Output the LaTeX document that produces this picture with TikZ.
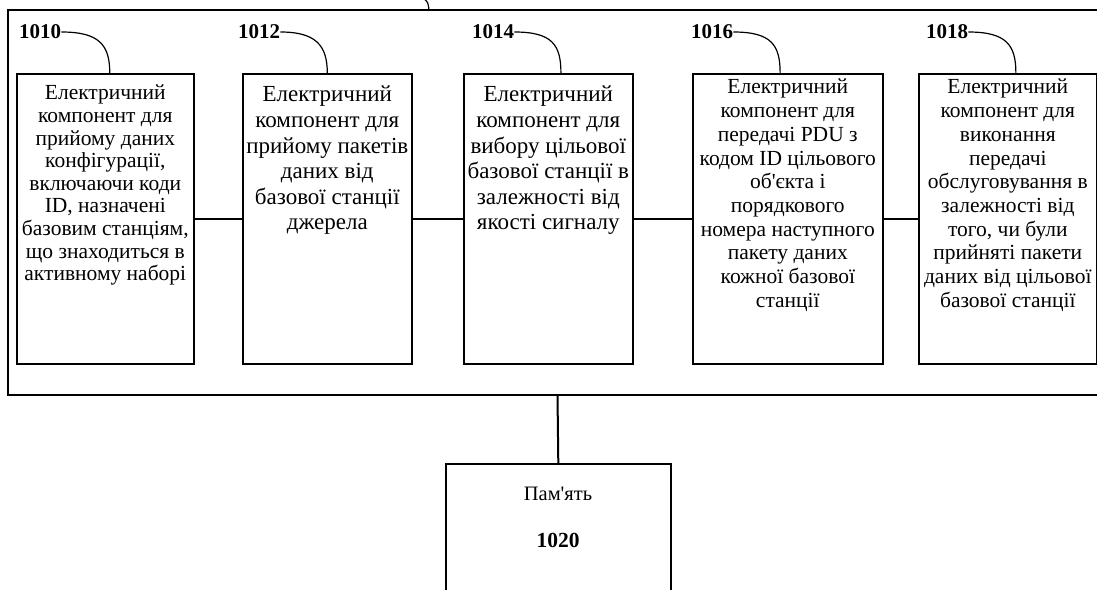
\documentclass[tikz,border=0pt]{standalone}
\usepackage{fontspec}
\setmainfont{Liberation Serif}[Ligatures=TeXOff]
\usetikzlibrary{calc}
\begin{document}
\begin{tikzpicture}[x=1pt,y=-1pt,
  unitbox/.style={draw, line width=1.6pt, rectangle, inner sep=0pt, anchor=north west},
  smalltxt/.style={anchor=north, align=center, inner sep=0pt, font=\fontsize{21.5}{22.6}\selectfont},
  widetxt/.style={anchor=north, align=center, inner sep=0pt, font=\fontsize{21.5}{23.7}\selectfont},
  bigtxt/.style={anchor=north, align=center, inner sep=0pt, font=\fontsize{23}{25.6}\selectfont},
  tag/.style={anchor=west, inner sep=0pt, font=\fontsize{21}{22}\selectfont\bfseries},
  tagline/.style={line width=1.2pt},
  link/.style={line width=1.5pt}]
\useasboundingbox (0,0) rectangle (1097,589);
\fill[white] (0,0) rectangle (1097,589);
\clip (0,0) rectangle (1097,589);

% enclosing unit, open to the right
\draw[line width=2pt] (1110,10) -- (8,10) -- (8,395) -- (1110,395);
\coordinate (unittop) at (429,10);
\coordinate (unitlead) at (423,-2);
\draw[tagline] (unitlead) .. controls (428,2) .. (unittop);
\coordinate (unitbottom) at (557.5,395);

% component boxes
\node[unitbox, minimum width=177pt, minimum height=290pt] (b1) at (16,73) {};
\node[unitbox, minimum width=169pt, minimum height=290pt] (b2) at (242,73) {};
\node[unitbox, minimum width=169pt, minimum height=290pt] (b3) at (463,73) {};
\node[unitbox, minimum width=190pt, minimum height=290pt] (b4) at (692,73) {};
\node[unitbox, minimum width=178pt, minimum height=290pt] (b5) at (918,73) {};

\node[smalltxt] (t1) at ($(b1.north)+(0,12)$) {Електричний\\компонент для\\прийому даних\\конфігурації,\\включаючи коди\\ID, назначені\\базовим станціям,\\що знаходиться в\\активному наборі};
\node[bigtxt] (t2) at ($(b2.north)+(0,13)$) {Електричний\\компонент для\\прийому пакетів\\даних від\\базової станції\\джерела};
\node[bigtxt] (t3) at ($(b3.north)+(0,13)$) {Електричний\\компонент для\\вибору цільової\\базової станції в\\залежності від\\якості сигналу};
\node[widetxt] (t4) at ($(b4.north)+(0,6)$) {Електричний\\компонент для\\передачі PDU з\\кодом ID цільового\\об'єкта і\\порядкового\\номера наступного\\пакету даних\\кожної базової\\станції};
\node[widetxt] (t5) at ($(b5.north)+(0,6)$) {Електричний\\компонент для\\виконання\\передачі\\обслуговування в\\залежності від\\того, чи були\\прийняті пакети\\даних від цільової\\базової станції};

% reference numerals with leader curves
\node[tag] (l1) at (19,32) {1010};
\node[tag] (l2) at (238,32) {1012};
\node[tag] (l3) at (472,32) {1014};
\node[tag] (l4) at (691,32) {1016};
\node[tag] (l5) at (926,32) {1018};
\draw[tagline] (l1.east) .. controls +(38,0) and +(0,-28) .. ($(b1.north west)!0.525!(b1.north east)$);
\draw[tagline] (l2.east) .. controls +(35,0) and +(0,-28) .. ($(b2.north west)!0.50!(b2.north east)$);
\draw[tagline] (l3.east) .. controls +(38,0) and +(0,-28) .. ($(b3.north west)!0.574!(b3.north east)$);
\draw[tagline] (l4.east) .. controls +(38,0) and +(0,-28) .. ($(b4.north west)!0.46!(b4.north east)$);
\draw[tagline] (l5.east) .. controls +(38,0) and +(0,-28) .. ($(b5.north west)!0.545!(b5.north east)$);

% links between components
\draw[link] (b1.east) -- (b2.west);
\draw[link] (b2.east) -- (b3.west);
\draw[link] (b3.east) -- (b4.west);
\draw[link] (b4.east) -- (b5.west);

% memory
\node[unitbox, minimum width=225pt, minimum height=150pt] (mem) at (445,463) {};
\node[anchor=center, inner sep=0pt, font=\fontsize{20.5}{24}\selectfont] (memname) at (558,494) {Пам'ять};
\node[anchor=center, inner sep=0pt, font=\fontsize{21.5}{24}\selectfont\bfseries] (memnum) at (558,540) {1020};
\draw[line width=2pt] (unitbottom) -- (mem.north);
\end{tikzpicture}
\end{document}
